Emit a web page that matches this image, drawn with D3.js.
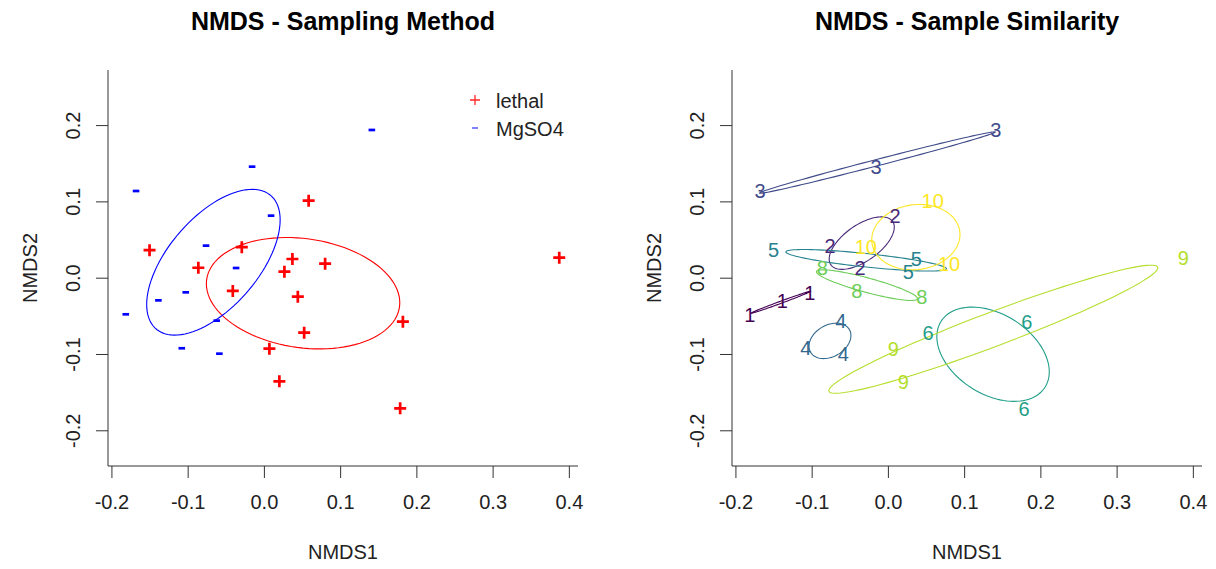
<!DOCTYPE html>
<html><head><meta charset="utf-8">
<script src="https://cdn.jsdelivr.net/npm/d3@7"></script>
<style>
body{margin:0;background:#fff}
svg{display:block}
text{font-family:"Liberation Sans",Arial,Helvetica,sans-serif}
</style>
</head><body>
<svg id="c" width="1216" height="569"></svg>
<script>
// ---- data ----
const nmds1 = [0.0587,-0.0290,0.0803,-0.1500,0.0374,0.0269,-0.0860,-0.0408,0.0445,0.0528,0.1823,0.1787,0.0072,0.0203,0.3874,
               0.1416,-0.0155,-0.1677,0.0094,-0.0759,-0.0365,-0.1025,-0.1384,-0.1812,-0.0619,-0.1077,-0.0584];
const nmds2 = [0.1010,0.0400,0.0184,0.0360,0.0245,0.0079,0.0130,-0.0174,-0.0249,-0.0721,-0.0577,-0.1712,-0.0930,-0.1358,0.0262,
               0.1936,0.1455,0.1136,0.0813,0.0420,0.0127,-0.0192,-0.0297,-0.0480,-0.0563,-0.0925,-0.0996];
const method = ["lethal","lethal","lethal","lethal","lethal","lethal","lethal","lethal","lethal","lethal","lethal","lethal","lethal","lethal","lethal",
                "MgSO4","MgSO4","MgSO4","MgSO4","MgSO4","MgSO4","MgSO4","MgSO4","MgSO4","MgSO4","MgSO4","MgSO4"];
const sample = [10,10,10,5,5,5,8,8,8,6,6,6,9,9,9,3,3,3,2,2,2,1,1,1,4,4,4];
const methods = ["lethal","MgSO4"];
const methodColors = ["#FF0000","#0000FF"];
const sampleIds = [1,2,3,4,5,6,7,8,9,10];
const sampleColors = ["#440154","#482878","#3E4A89","#31688E","#26828E","#1F9E89","#35B779","#6DCD59","#B4DE2C","#FDE725"];
const xTicks = [-0.2,-0.1,0.0,0.1,0.2,0.3,0.4];
const yTicks = [-0.2,-0.1,0.0,0.1,0.2];
const xDomain = [-0.2045, 0.4120];
const yDomain = [-0.2468, 0.2722];
const titles = ["NMDS - Sampling Method","NMDS - Sample Similarity"];
const xLabel = "NMDS1", yLabel = "NMDS2";

const pts = nmds1.map((x,i)=>({x, y:nmds2[i], m:method[i], s:sample[i]}));

const svg = d3.select("#c");
const panels = [{x0:108,x1:578},{x0:732,x1:1202}];
const yTop = 70, yBot = 466;

function covEllipse(group){
  const n = group.length;
  const mx = d3.mean(group,d=>d.x), my = d3.mean(group,d=>d.y);
  let sxx=0, syy=0, sxy=0;
  group.forEach(d=>{const dx=d.x-mx, dy=d.y-my; sxx+=dx*dx; syy+=dy*dy; sxy+=dx*dy;});
  sxx/=(n-1); syy/=(n-1); sxy/=(n-1);
  const a = Math.sqrt(sxx), b = sxy/a, c = Math.sqrt(Math.max(syy-b*b,0));
  return d3.range(0,100).map(k=>{const t=2*Math.PI*k/100; return [mx+a*Math.cos(t), my+b*Math.cos(t)+c*Math.sin(t)];});
}

panels.forEach((p,pi)=>{
  const x = d3.scaleLinear().domain(xDomain).range([p.x0,p.x1]);
  const y = d3.scaleLinear().domain(yDomain).range([yBot,yTop]);
  const g = svg.append("g");
  // frame (L box)
  g.append("path").attr("d",`M${p.x0},${yTop}V${yBot}H${p.x1}`).attr("fill","none").attr("stroke","#333").attr("stroke-width",1);
  // x axis
  const xa = g.append("g").attr("transform",`translate(0,${yBot})`)
    .call(d3.axisBottom(x).tickValues(xTicks).tickSize(12).tickPadding(17).tickFormat(d=>d.toFixed(1)));
  xa.select(".domain").remove();
  xa.selectAll("line").attr("stroke","#333");
  xa.selectAll("text").attr("font-size",20).attr("fill","#222").attr("font-family","'Liberation Sans',Arial,sans-serif");
  // y axis
  const ya = g.append("g").attr("transform",`translate(${p.x0},0)`)
    .call(d3.axisLeft(y).tickValues(yTicks).tickSize(12).tickFormat(d=>d.toFixed(1)));
  ya.select(".domain").remove();
  ya.selectAll("line").attr("stroke","#333");
  ya.selectAll("text").attr("font-size",20).attr("fill","#222").attr("font-family","'Liberation Sans',Arial,sans-serif")
    .attr("x",null).attr("dy",null).attr("text-anchor","middle")
    .attr("transform","translate(-28,0) rotate(-90)");
  // labels
  g.append("text").attr("x",(p.x0+p.x1)/2).attr("y",559).attr("text-anchor","middle").attr("font-size",20).attr("fill","#222").text(xLabel);
  g.append("text").attr("transform",`translate(${p.x0-71},${(yTop+yBot)/2}) rotate(-90)`).attr("text-anchor","middle").attr("font-size",20).attr("fill","#222").text(yLabel);
  g.append("text").attr("x",(p.x0+p.x1)/2).attr("y",30).attr("text-anchor","middle").attr("font-size",25).attr("font-weight","bold").attr("fill","#000").text(titles[pi]);

  const line = d3.line().x(d=>x(d[0])).y(d=>y(d[1])).curve(d3.curveLinearClosed);

  if(pi===0){
    methods.forEach((m,mi)=>{
      const grp = pts.filter(d=>d.m===m);
      g.append("path").attr("d",line(covEllipse(grp))).attr("fill","none").attr("stroke",methodColors[mi]).attr("stroke-width",1.1);
    });
    pts.forEach(d=>{
      const cx=x(d.x), cy=y(d.y);
      if(d.m==="lethal"){
        g.append("path").attr("d",`M${cx-6},${cy}H${cx+6}M${cx},${cy-6}V${cy+6}`).attr("stroke",methodColors[0]).attr("stroke-width",2.7);
      } else {
        g.append("path").attr("d",`M${cx-3.3},${cy}H${cx+3.3}`).attr("stroke",methodColors[1]).attr("stroke-width",2.7);
      }
    });
    // legend
    const lx = 475, ly = 100, lh = 28;
    methods.forEach((m,mi)=>{
      const cy = ly+mi*lh;
      if(mi===0) g.append("path").attr("d",`M${lx-5},${cy}H${lx+5}M${lx},${cy-5}V${cy+5}`).attr("stroke",methodColors[0]).attr("stroke-width",1.3).attr("opacity",0.85);
      else g.append("path").attr("d",`M${lx-3},${cy}H${lx+3}`).attr("stroke",methodColors[1]).attr("stroke-width",1.4).attr("opacity",0.7);
      g.append("text").attr("x",lx+21).attr("y",cy+7.5).attr("font-size",20).attr("fill","#222").text(m);
    });
  } else {
    sampleIds.forEach((s,si)=>{
      const grp = pts.filter(d=>d.s===s);
      if(grp.length<2) return;
      g.append("path").attr("d",line(covEllipse(grp))).attr("fill","none").attr("stroke",sampleColors[si]).attr("stroke-width",1.1);
    });
    pts.forEach(d=>{
      g.append("text").attr("x",x(d.x)).attr("y",y(d.y)).attr("dy","0.36em").attr("text-anchor","middle")
        .attr("font-size",20).attr("fill",sampleColors[d.s-1]).text(d.s);
    });
  }
});
</script>
</body></html>
